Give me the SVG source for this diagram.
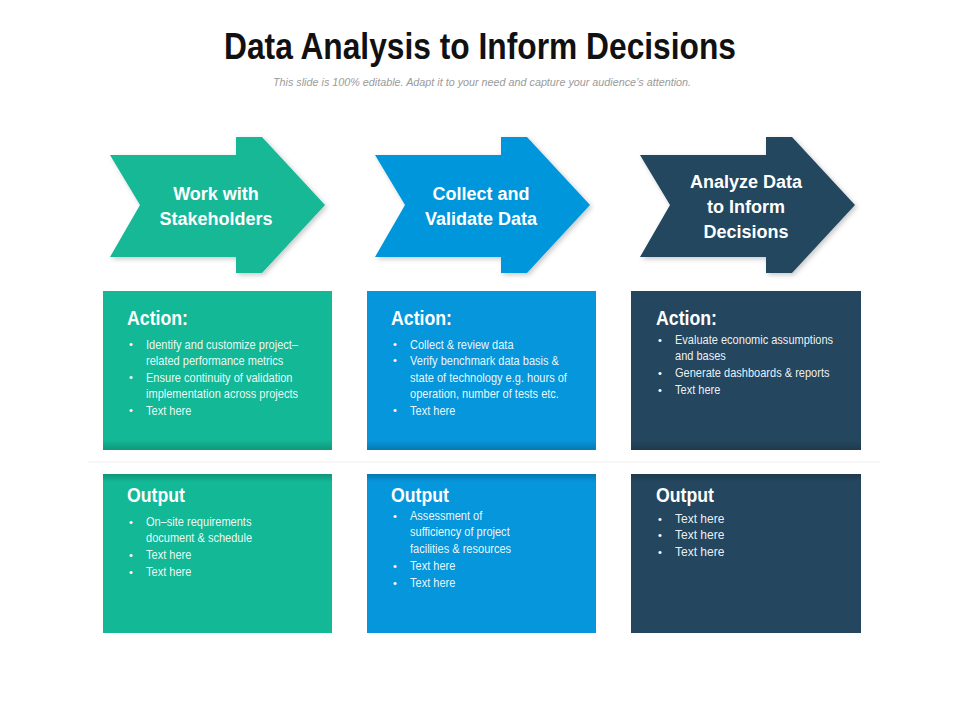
<svg xmlns="http://www.w3.org/2000/svg" width="960" height="720" viewBox="0 0 960 720">
<defs>
<filter id="sh" x="-10%" y="-10%" width="125%" height="130%">
<feDropShadow dx="2" dy="2" stdDeviation="2.5" flood-color="#000" flood-opacity="0.22"/>
</filter>
<linearGradient id="botShade" x1="0" y1="0" x2="0" y2="1">
<stop offset="0" stop-color="#000" stop-opacity="0"/>
<stop offset="1" stop-color="#000" stop-opacity="0.18"/>
</linearGradient>
<linearGradient id="topShade" x1="0" y1="0" x2="0" y2="1">
<stop offset="0" stop-color="#000" stop-opacity="0.2"/>
<stop offset="1" stop-color="#000" stop-opacity="0"/>
</linearGradient>
</defs>
<style>
.title{font-family:"Liberation Sans",Arial,sans-serif;font-weight:bold;font-size:37px;fill:#111;}
.sub{font-family:"Liberation Sans",Arial,sans-serif;font-style:italic;font-size:10px;fill:#9a9a9a;}
.chev{font-family:"Liberation Sans",Arial,sans-serif;font-weight:bold;font-size:18px;fill:#fff;text-anchor:middle;}
.hd{font-family:"Liberation Sans",Arial,sans-serif;font-weight:bold;font-size:21px;fill:#fff;}
.bl{font-family:"Liberation Sans",Arial,sans-serif;font-size:12px;fill:#fff;fill-opacity:0.93;}
.dot{font-family:"Liberation Sans",Arial,sans-serif;font-size:11px;fill:#fff;}
.green{fill:#13b896;}
.blue{fill:#0696db;}
.navy{fill:#24475f;}
</style>
<rect width="960" height="720" fill="#fff"/>

<text class="title" x="480" y="59" text-anchor="middle" textLength="512" lengthAdjust="spacingAndGlyphs">Data Analysis to Inform Decisions</text>
<text class="sub" x="482" y="86" text-anchor="middle" textLength="418" lengthAdjust="spacingAndGlyphs">This slide is 100% editable. Adapt it to your need and capture your audience’s attention.</text>

<line x1="88" y1="462" x2="880" y2="462" stroke="#eeeeee" stroke-width="1"/>

<g id="connectors"></g>

<!-- Chevrons -->
<g id="chevron1">
<path class="green" filter="url(#sh)" d="M110,155 H236 V137 H262 L325,205 L262,273 H236 V257 H110 L140,205 Z"/>
<text class="chev" x="216" y="200">Work with</text>
<text class="chev" x="216" y="225">Stakeholders</text>
</g>
<g id="chevron2">
<path class="blue" filter="url(#sh)" d="M375,155 H501 V137 H527 L590,205 L527,273 H501 V257 H375 L405,205 Z"/>
<text class="chev" x="481" y="200">Collect and</text>
<text class="chev" x="481" y="225">Validate Data</text>
</g>
<g id="chevron3">
<path class="navy" filter="url(#sh)" d="M640,155 H766 V137 H792 L855,205 L792,273 H766 V257 H640 L670,205 Z"/>
<text class="chev" x="746" y="188">Analyze Data</text>
<text class="chev" x="746" y="213">to Inform</text>
<text class="chev" x="746" y="238">Decisions</text>
</g>

<!-- Action boxes -->
<g id="action1">
<rect class="green" x="103" y="291" width="229" height="159"/>
<rect x="103" y="440" width="229" height="10" fill="url(#botShade)"/>
<text class="hd" x="127" y="325" textLength="61" lengthAdjust="spacingAndGlyphs">Action:</text>
<g class="dot"><text x="129" y="348">•</text><text x="129" y="381">•</text><text x="129" y="414">•</text></g>
<g transform="translate(146,0) scale(0.92,1)">
<text class="bl" x="0" y="349">Identify and customize project–</text>
<text class="bl" x="0" y="365">related performance metrics</text>
<text class="bl" x="0" y="382">Ensure continuity of validation</text>
<text class="bl" x="0" y="398">implementation across projects</text>
<text class="bl" x="0" y="415">Text here</text>
</g>
</g>
<g id="action2">
<rect class="blue" x="367" y="291" width="229" height="159"/>
<rect x="367" y="440" width="229" height="10" fill="url(#botShade)"/>
<text class="hd" x="391" y="325" textLength="61" lengthAdjust="spacingAndGlyphs">Action:</text>
<g class="dot"><text x="393" y="348">•</text><text x="393" y="364">•</text><text x="393" y="414">•</text></g>
<g transform="translate(410,0) scale(0.92,1)">
<text class="bl" x="0" y="349">Collect &amp; review data</text>
<text class="bl" x="0" y="365">Verify benchmark data basis &amp;</text>
<text class="bl" x="0" y="382">state of technology e.g. hours of</text>
<text class="bl" x="0" y="398">operation, number of tests etc.</text>
<text class="bl" x="0" y="415">Text here</text>
</g>
</g>
<g id="action3">
<rect class="navy" x="631" y="291" width="230" height="159"/>
<rect x="631" y="440" width="230" height="10" fill="url(#botShade)"/>
<text class="hd" x="656" y="325" textLength="61" lengthAdjust="spacingAndGlyphs">Action:</text>
<g class="dot"><text x="658" y="344">•</text><text x="658" y="377">•</text><text x="658" y="394">•</text></g>
<g transform="translate(675,0) scale(0.92,1)">
<text class="bl" x="0" y="344">Evaluate economic assumptions</text>
<text class="bl" x="0" y="360">and bases</text>
<text class="bl" x="0" y="377">Generate dashboards &amp; reports</text>
<text class="bl" x="0" y="394">Text here</text>
</g>
</g>

<!-- Output boxes -->
<g id="output1">
<rect class="green" x="103" y="474" width="229" height="159"/>
<rect x="103" y="474" width="229" height="8" fill="url(#topShade)"/>
<text class="hd" x="127" y="502" textLength="58" lengthAdjust="spacingAndGlyphs">Output</text>
<g class="dot"><text x="129" y="526">•</text><text x="129" y="559">•</text><text x="129" y="576">•</text></g>
<g transform="translate(146,0) scale(0.92,1)">
<text class="bl" x="0" y="526">On–site requirements</text>
<text class="bl" x="0" y="542">document &amp; schedule</text>
<text class="bl" x="0" y="559">Text here</text>
<text class="bl" x="0" y="576">Text here</text>
</g>
</g>
<g id="output2">
<rect class="blue" x="367" y="474" width="229" height="159"/>
<rect x="367" y="474" width="229" height="8" fill="url(#topShade)"/>
<text class="hd" x="391" y="502" textLength="58" lengthAdjust="spacingAndGlyphs">Output</text>
<g class="dot"><text x="393" y="520">•</text><text x="393" y="570">•</text><text x="393" y="587">•</text></g>
<g transform="translate(410,0) scale(0.92,1)">
<text class="bl" x="0" y="520">Assessment of</text>
<text class="bl" x="0" y="536">sufficiency of project</text>
<text class="bl" x="0" y="553">facilities &amp; resources</text>
<text class="bl" x="0" y="570">Text here</text>
<text class="bl" x="0" y="587">Text here</text>
</g>
</g>
<g id="output3">
<rect class="navy" x="631" y="474" width="230" height="159"/>
<rect x="631" y="474" width="230" height="8" fill="url(#topShade)"/>
<text class="hd" x="656" y="502" textLength="58" lengthAdjust="spacingAndGlyphs">Output</text>
<g class="dot"><text x="658" y="523">•</text><text x="658" y="539">•</text><text x="658" y="556">•</text></g>
<text class="bl" x="675" y="523">Text here</text>
<text class="bl" x="675" y="539">Text here</text>
<text class="bl" x="675" y="556">Text here</text>
</g>
</svg>
